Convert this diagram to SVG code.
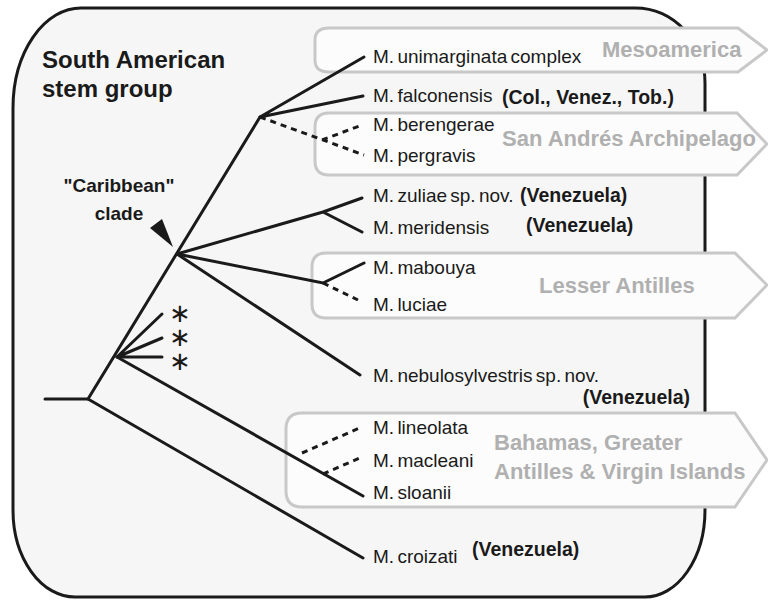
<svg xmlns="http://www.w3.org/2000/svg" width="768" height="600" viewBox="0 0 768 600">
<style>
.box{fill:#f6f6f6;stroke:#1a1a1a;stroke-width:3}
.banner{fill:#fcfcfc;stroke:#c8c8c8;stroke-width:3}
.br{fill:none;stroke:#1a1a1a;stroke-width:3;stroke-linecap:round}
.dash{stroke-dasharray:6 5;stroke-linecap:butt}
.sp{font-family:"Liberation Sans",Arial,sans-serif;font-size:19px;word-spacing:-2px;fill:#1a1a1a}
.bold{font-family:"Liberation Sans",Arial,sans-serif;font-weight:bold;font-size:19.5px;fill:#1a1a1a}
.reg{font-family:"Liberation Sans",Arial,sans-serif;font-weight:bold;font-size:22px;fill:#b0b0b0}
.hd{font-family:"Liberation Sans",Arial,sans-serif;font-weight:bold;fill:#1a1a1a}
.ast{font-family:"DejaVu Sans",sans-serif;font-size:26px;fill:#1a1a1a}
</style>
<path class="box" d="M81,8 H635 A70 75 0 0 1 705 83 V510 A60 87 0 0 1 645 597 H75 A62 87 0 0 1 13 510 V108 A68 100 0 0 1 81 8 Z"/>
<g id="banner-mesoamerica">
<path class="banner" d="M329,28 H738 L767,50 L738,72 H329 Q315,72 315,60 V40 Q315,28 329,28 Z"/>
<text class="reg" x="602" y="57">Mesoamerica</text>
</g>
<g id="banner-sanandres">
<path class="banner" d="M329,113 H737 L767,144 L737,175 H329 Q315,175 315,161 V127 Q315,113 329,113 Z"/>
<text class="reg" x="502" y="146">San Andrés Archipelago</text>
</g>
<g id="banner-lesser">
<path class="banner" d="M326,253 H735 L767,285 L735,318 H326 Q312,318 312,304 V267 Q312,253 326,253 Z"/>
<text class="reg" x="539" y="293">Lesser Antilles</text>
</g>
<g id="banner-greater">
<path class="banner" d="M302,413 H735 L767,460 L735,507 H302 Q286,507 286,491 V429 Q286,413 302,413 Z"/>
<text class="reg" x="494" y="450">Bahamas, Greater</text>
<text class="reg" x="494" y="479">Antilles &amp; Virgin Islands</text>
</g>
<g id="connectors">
<path class="br" d="M45,399 H88 L260,117"/>
<path class="br" d="M88,399 L363,558"/>
<path class="br" d="M260,117 L364,57 M260,117 L363,96"/>
<path class="br dash" d="M260,117 L364,155 M322,140 L362,125"/>
<path class="br" d="M177,254 L323,212 L362,198 M323,212 L362,232"/>
<path class="br" d="M177,254 L323,283 L364,263"/>
<path class="br dash" d="M323,283 L358,300"/>
<path class="br" d="M177,254 L360,375"/>
<path class="br" d="M117,357 L162,314 M117,357 L162,338 M117,357 L162,357"/>
<path class="br" d="M117,357 L363,496"/>
<path class="br dash" d="M323,474 L362,457 M302,453 L362,427"/>
<polygon points="150,228 162,219 173,247" fill="#1a1a1a"/>
</g>
<g id="labels">
<text class="hd" x="42" y="68" font-size="24">South American</text>
<text class="hd" x="42" y="97" font-size="24">stem group</text>
<text class="hd" x="119" y="192" font-size="19" text-anchor="middle">"Caribbean"</text>
<text class="hd" x="119" y="220" font-size="19" text-anchor="middle">clade</text>
<text class="ast" text-anchor="middle"><tspan x="180" y="322">∗</tspan><tspan x="180" y="346">∗</tspan><tspan x="180" y="370">∗</tspan></text>
</g>
<g id="taxa">
<text class="sp" x="373" y="63">M. unimarginata complex</text>
<text class="sp" x="373" y="102">M. falconensis</text>
<text class="bold" x="502" y="104">(Col., Venez., Tob.)</text>
<text class="sp" x="373" y="131">M. berengerae</text>
<text class="sp" x="373" y="162">M. pergravis</text>
<text class="sp" x="373" y="202">M. zuliae sp. nov.</text>
<text class="bold" x="520" y="202">(Venezuela)</text>
<text class="sp" x="373" y="234">M. meridensis</text>
<text class="bold" x="526" y="232">(Venezuela)</text>
<text class="sp" x="373" y="274">M. mabouya</text>
<text class="sp" x="373" y="311">M. luciae</text>
<text class="sp" x="373" y="382">M. nebulosylvestris sp. nov.</text>
<text class="bold" x="690" y="404" text-anchor="end">(Venezuela)</text>
<text class="sp" x="373" y="434">M. lineolata</text>
<text class="sp" x="373" y="467">M. macleani</text>
<text class="sp" x="373" y="499">M. sloanii</text>
<text class="sp" x="373" y="563">M. croizati</text>
<text class="bold" x="472" y="556">(Venezuela)</text>
</g>
</svg>
